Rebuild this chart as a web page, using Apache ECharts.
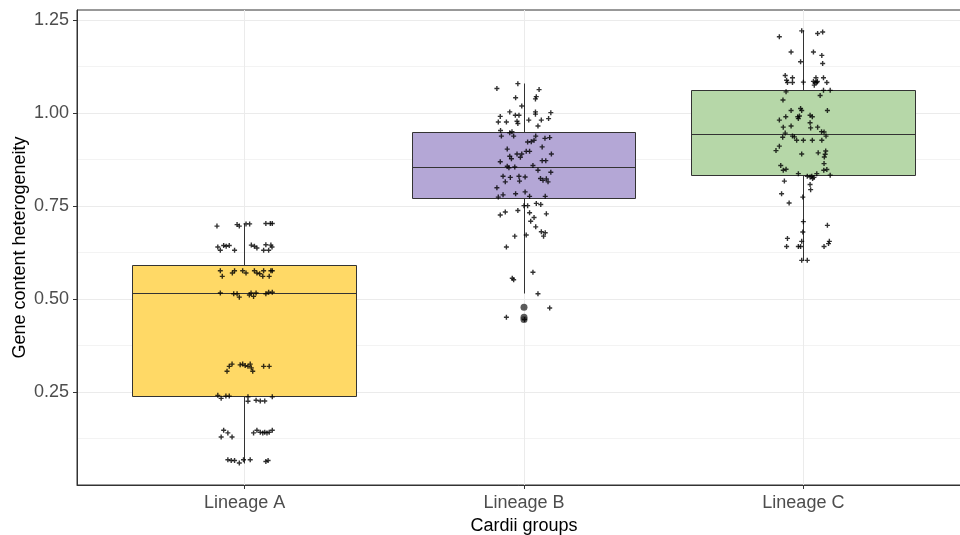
<!DOCTYPE html>
<html>
<head>
<meta charset="utf-8">
<script src="https://cdn.jsdelivr.net/npm/echarts@6/dist/echarts.min.js"></script>
<style>
html,body{margin:0;padding:0;background:#fff;}
#chart{width:960px;height:535px;}
</style>
</head>
<body>
<div id="chart"></div>
<script>
const categories = ['Lineage A', 'Lineage B', 'Lineage C'];
const yTicks = [0.25, 0.50, 0.75, 1.00, 1.25];

// box statistics
const boxLower  = [0.059, 0.514, 0.604];
const boxQ1     = [0.237, 0.770, 0.833];
const boxMedian = [0.514, 0.854, 0.941];
const boxQ3     = [0.590, 0.947, 1.061];
const boxUpper  = [0.703, 1.080, 1.221];
const outliersB = [0.478, 0.451, 0.445];

// jittered points: horizontal jitter offsets and values
const aJitter = [-0.099,-0.027,-0.019,0.005,0.018,0.076,0.092,0.099,
  -0.096,-0.087,-0.075,-0.066,-0.055,-0.036,0.024,0.035,0.044,0.068,0.076,0.086,0.094,0.098,
  -0.087,-0.080,-0.044,-0.036,-0.007,0.005,0.035,0.044,0.054,0.065,0.068,0.088,0.094,0.099,
  -0.087,-0.039,-0.027,-0.019,0.017,0.023,0.032,0.041,0.076,0.086,0.099,
  -0.063,-0.055,-0.045,-0.016,-0.007,0.002,0.012,0.020,0.029,0.024,0.068,0.088,
  -0.096,-0.084,-0.067,-0.055,0.012,0.012,0.041,0.056,0.072,0.099,
  -0.084,-0.075,-0.060,-0.045,0.032,0.044,0.056,0.065,0.072,0.080,0.088,0.099,
  -0.060,-0.048,-0.036,-0.019,-0.004,0.020,0.076,0.084];
const aValues = [0.696,0.700,0.696,0.702,0.702,0.703,0.703,0.703,
  0.640,0.631,0.644,0.642,0.644,0.631,0.645,0.642,0.637,0.631,0.646,0.631,0.645,0.640,
  0.576,0.561,0.570,0.576,0.576,0.570,0.576,0.570,0.568,0.561,0.576,0.561,0.576,0.576,
  0.516,0.514,0.514,0.505,0.511,0.516,0.507,0.516,0.514,0.518,0.518,
  0.306,0.319,0.325,0.323,0.325,0.321,0.319,0.325,0.306,0.315,0.319,0.319,
  0.241,0.233,0.239,0.239,0.225,0.237,0.228,0.226,0.226,0.237,
  0.129,0.147,0.140,0.129,0.140,0.147,0.142,0.140,0.142,0.140,0.142,0.147,
  0.068,0.066,0.066,0.059,0.068,0.068,0.063,0.066];

const bJitter = [-0.097,-0.022,0.054,-0.030,0.044,0.041,-0.008,-0.051,0.041,0.041,0.096,
  -0.085,-0.031,-0.018,-0.092,-0.063,-0.025,-0.022,0.017,0.062,0.088,0.050,-0.084,-0.051,
  -0.043,-0.081,-0.037,0.042,0.075,0.092,0.036,0.026,0.013,0.065,-0.060,-0.025,-0.008,
  0.008,0.020,0.098,-0.051,-0.045,-0.013,0.065,0.078,-0.085,-0.060,-0.054,-0.033,0.032,
  0.050,0.096,-0.075,-0.049,-0.018,0.004,-0.067,-0.016,0.059,0.068,0.080,0.086,-0.097,
  -0.030,0.004,0.020,-0.075,-0.092,0.076,0.000,0.013,0.044,0.060,-0.085,-0.067,-0.022,
  0.020,0.080,0.036,0.024,0.042,0.062,0.076,0.070,-0.033,0.008,-0.063,-0.042,-0.037,
  0.032,0.050,0.092,-0.063,0.002];
const bValues = [1.066,1.079,1.063,1.041,1.044,1.038,1.019,1.003,1.003,0.997,1.001,
  0.991,0.994,0.994,0.976,0.976,0.978,0.972,0.981,0.981,0.985,0.965,0.953,0.947,
  0.950,0.938,0.938,0.938,0.932,0.934,0.927,0.923,0.922,0.909,0.903,0.890,0.890,
  0.897,0.897,0.890,0.884,0.877,0.881,0.872,0.872,0.869,0.857,0.853,0.855,0.859,
  0.846,0.841,0.830,0.827,0.830,0.828,0.815,0.817,0.824,0.819,0.823,0.815,0.799,
  0.783,0.788,0.776,0.780,0.774,0.776,0.751,0.751,0.757,0.754,0.726,0.734,0.738,
  0.732,0.729,0.719,0.709,0.694,0.681,0.678,0.669,0.669,0.672,0.640,0.556,0.552,
  0.572,0.514,0.476,0.451,0.445];

const cJitter = [-0.086,-0.006,0.051,0.069,-0.044,0.036,0.066,-0.010,0.069,-0.065,-0.039,
  -0.060,-0.057,-0.039,0.000,0.045,0.072,0.036,0.042,0.048,0.039,0.050,0.084,-0.062,
  0.060,0.072,0.096,-0.073,-0.044,-0.010,-0.006,0.086,-0.063,-0.086,-0.018,-0.014,
  -0.020,0.024,0.032,-0.072,-0.044,0.024,0.026,0.051,-0.065,-0.074,-0.039,-0.032,
  -0.024,0.000,0.032,0.065,0.074,0.081,0.066,-0.086,-0.098,-0.006,0.053,0.080,0.078,
  0.075,0.074,-0.081,-0.072,-0.062,-0.018,0.014,0.024,0.033,0.030,0.038,0.048,0.073,
  0.084,0.096,-0.068,0.024,0.026,-0.078,-0.051,-0.002,0.000,-0.002,0.086,-0.057,
  -0.060,-0.018,-0.010,-0.006,0.074,0.090,0.093,-0.006,0.014];
const cValues = [1.205,1.221,1.214,1.218,1.164,1.164,1.155,1.138,1.133,1.101,1.095,
  1.088,1.082,1.082,1.083,1.095,1.095,1.085,1.082,1.082,1.075,1.085,1.082,1.057,
  1.047,1.061,1.061,1.035,1.007,1.012,1.007,1.007,0.990,0.981,0.985,0.992,
  0.990,0.994,0.990,0.962,0.965,0.974,0.960,0.962,0.946,0.935,0.938,0.936,
  0.927,0.927,0.927,0.950,0.949,0.938,0.927,0.911,0.899,0.890,0.893,0.898,0.889,
  0.882,0.864,0.859,0.846,0.849,0.837,0.830,0.828,0.824,0.830,0.827,0.837,0.846,
  0.848,0.833,0.817,0.808,0.794,0.783,0.758,0.774,0.708,0.680,0.698,0.663,
  0.641,0.641,0.641,0.655,0.641,0.649,0.655,0.604,0.604];

const boxColors = ['#FFD966', '#B4A7D6', '#B6D7A8'];
const FONT = '"Liberation Sans", Arial, sans-serif';

const jitterGroups = [[aJitter, aValues], [bJitter, bValues], [cJitter, cValues]];
const jitterData = [];
jitterGroups.forEach(function (g, i) {
  g[0].forEach(function (dx, k) { jitterData.push([i + 1 + dx, g[1][k]]); });
});
const boxData = categories.map(function (c, i) {
  return [i + 1, boxLower[i], boxQ1[i], boxMedian[i], boxQ3[i], boxUpper[i]];
});
const outlierData = outliersB.map(function (v) { return [2, v]; });

function snap(v) { return Math.round(v - 0.5) + 0.5; }

const chart = echarts.init(document.getElementById('chart'), null, {renderer: 'canvas'});
chart.setOption({
  animation: false,
  backgroundColor: '#ffffff',
  grid: {
    left: 77, top: 10, width: 894, height: 475,
    outerBoundsMode: 'none', containLabel: false,
    show: true, borderColor: '#333333', borderWidth: 1, backgroundColor: 'transparent'
  },
  xAxis: {
    type: 'value', min: 0.4, max: 3.6,
    name: 'Cardii groups', nameLocation: 'middle', nameGap: 29,
    nameTextStyle: {color: '#000', fontSize: 18, fontFamily: FONT},
    axisLine: {show: true, lineStyle: {color: '#333333', width: 1}},
    axisTick: {show: true, customValues: [1, 2, 3], length: 4, lineStyle: {color: '#333333'}},
    axisLabel: {customValues: [1, 2, 3], margin: 9, color: '#4D4D4D', fontSize: 18, fontFamily: FONT,
      formatter: function (v) { return categories[Math.round(v) - 1] || ''; }},
    splitLine: {show: true, lineStyle: {color: '#EBEBEB', width: 1}}
  },
  yAxis: {
    type: 'value', min: 0, max: 1.277, interval: 0.25,
    name: 'Gene content heterogeneity', nameLocation: 'middle', nameGap: 48, nameRotate: 90,
    nameMoveOverlap: false,
    nameTextStyle: {color: '#000', fontSize: 18, fontFamily: FONT},
    axisLine: {show: true, lineStyle: {color: '#333333', width: 1}},
    axisTick: {show: true, customValues: yTicks, length: 4, lineStyle: {color: '#333333'}},
    axisLabel: {customValues: yTicks, margin: 8, color: '#4D4D4D', fontSize: 18, fontFamily: FONT,
      formatter: function (v) { return v.toFixed(2); }},
    splitLine: {show: true, lineStyle: {color: '#EBEBEB', width: 1}},
    minorTick: {show: false, splitNumber: 2},
    minorSplitLine: {show: true, lineStyle: {color: '#F3F3F3', width: 1}}
  },
  series: [
    {
      type: 'custom',
      z: 2,
      data: boxData,
      encode: {x: 0, y: [1, 2, 3, 4, 5]},
      renderItem: function (params, api) {
        const x = api.value(0);
        const lo = api.coord([x, api.value(1)]);
        const q1 = api.coord([x - 0.4, api.value(2)]);
        const md = api.coord([x - 0.4, api.value(3)]);
        const q3 = api.coord([x - 0.4, api.value(4)]);
        const hi = api.coord([x, api.value(5)]);
        const right = api.coord([x + 0.4, api.value(4)]);
        const cx = snap(lo[0]);
        const xl = snap(q1[0]), xr = snap(right[0]);
        const yq1 = snap(q1[1]), yq3 = snap(q3[1]), ymd = snap(md[1]);
        const st = {stroke: '#333333', lineWidth: 1, fill: null};
        return {
          type: 'group',
          children: [
            {type: 'line', shape: {x1: cx, y1: snap(hi[1]), x2: cx, y2: yq3}, style: st},
            {type: 'line', shape: {x1: cx, y1: yq1, x2: cx, y2: snap(lo[1])}, style: st},
            {type: 'rect', shape: {x: xl, y: yq3, width: xr - xl, height: yq1 - yq3},
              style: {fill: boxColors[params.dataIndex], stroke: '#333333', lineWidth: 1}},
            {type: 'line', shape: {x1: xl, y1: ymd, x2: xr, y2: ymd}, style: st}
          ]
        };
      }
    },
    {
      type: 'scatter', z: 3, data: outlierData,
      symbol: 'circle', symbolSize: 7,
      itemStyle: {color: '#333333'}, silent: true
    },
    {
      type: 'scatter', z: 4, data: jitterData,
      symbol: 'path://M0,1.8H5V3.2H0Z M1.8,0H3.2V5H1.8Z', symbolSize: 5,
      itemStyle: {color: '#000000'}, silent: true
    }
  ]
});
</script>
</body>
</html>
